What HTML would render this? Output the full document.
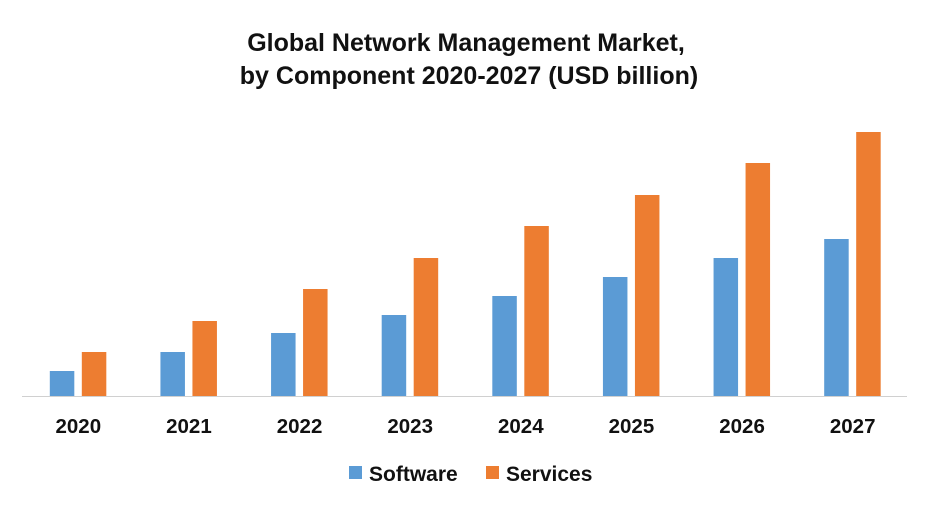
<!DOCTYPE html>
<html><head><meta charset="utf-8"><style>
body{margin:0;background:#fff;width:930px;height:508px;overflow:hidden;font-family:"Liberation Sans",Arial,sans-serif}
</style></head><body>
<svg id="chart" width="930" height="508" xmlns="http://www.w3.org/2000/svg">
<text x="466" y="51" text-anchor="middle" font-size="25" font-weight="bold" fill="#111">Global Network Management Market,</text>
<text x="469" y="84" text-anchor="middle" font-size="25" font-weight="bold" fill="#111">by Component 2020-2027 (USD billion)</text>
<g id="bars"></g>
<line x1="22" y1="396.5" x2="907" y2="396.5" stroke="#d0d0d0" stroke-width="1"/>
<g id="xlabels"></g>
<g>
<rect x="349" y="466" width="13" height="13" fill="#5B9BD5"/>
<text x="369" y="481" font-size="21" font-weight="bold" fill="#111">Software</text>
<rect x="486" y="466" width="13" height="13" fill="#ED7D31"/>
<text x="506" y="481" font-size="21" font-weight="bold" fill="#111">Services</text>
</g>
</svg>
<script>
const categories=["2020","2021","2022","2023","2024","2025","2026","2027"];
const software=[25,44,63,81,100,119,138,157];
const services=[44,75,107,138,170,201,233,264];
const ns="http://www.w3.org/2000/svg";
const x0=22,x1=907,base=396,yMax=300,plotH=300;
const band=(x1-x0)/categories.length;
function y(v){return base-v/yMax*plotH;}
function cx(i){return x0+band*(i+0.5);}
const bars=document.getElementById('bars'),xl=document.getElementById('xlabels');
categories.forEach((c,i)=>{
  [[software,"#5B9BD5",-27.5,"software"],[services,"#ED7D31",4.5,"services"]].forEach(([arr,col,off,nm])=>{
    const r=document.createElementNS(ns,'rect');
    
    
    r.setAttribute('x',cx(i)+off);r.setAttribute('width',24.5);
    r.setAttribute('y',y(arr[i]));r.setAttribute('height',base-y(arr[i]));
    r.setAttribute('fill',col);bars.appendChild(r);
  });
  const t=document.createElementNS(ns,'text');
  
  
  t.setAttribute('x',cx(i)+1);t.setAttribute('y',433);t.setAttribute('text-anchor','middle');
  t.setAttribute('font-size','20.5');t.setAttribute('font-weight','bold');t.setAttribute('fill','#111');
  t.textContent=c;xl.appendChild(t);
});
</script>
</body></html>
